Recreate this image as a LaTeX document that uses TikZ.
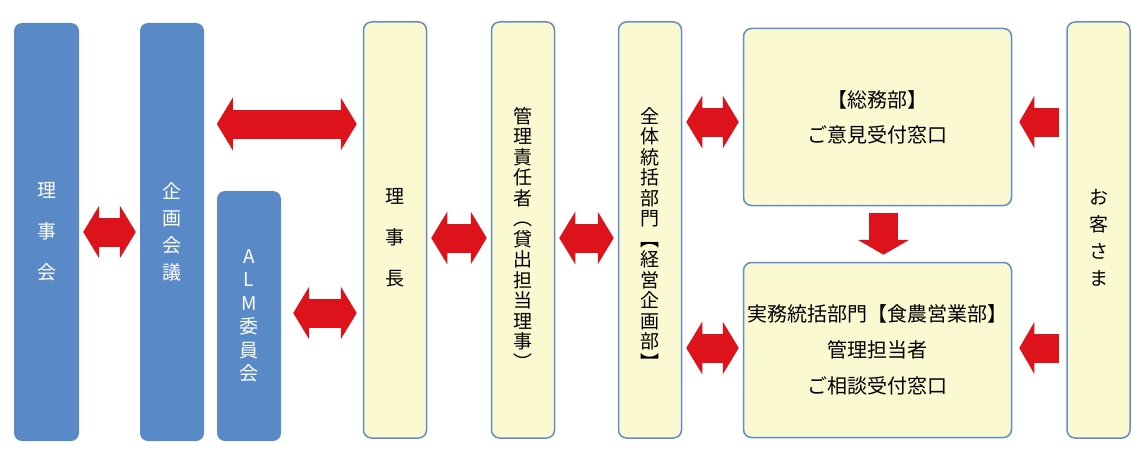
\documentclass[tikz,border=0pt]{standalone}
\usepackage{fontspec}
\setmainfont{Noto Sans CJK JP}
\usetikzlibrary{arrows.meta}

\definecolor{boardblue}{RGB}{89,137,198}
\definecolor{paleyellow}{RGB}{250,249,210}
\definecolor{edgeblue}{RGB}{98,141,200}
\definecolor{arrowred}{RGB}{222,18,26}

\tikzset{
  bluebar/.style={rectangle, rounded corners=8pt, fill=boardblue, text=white, inner sep=0pt, align=center, minimum width=64pt},
  yellowbar/.style={rectangle, rounded corners=8pt, fill=paleyellow, draw=edgeblue, line width=1.5pt, inner sep=0pt, align=center},
  columntext/.style={align=center, inner sep=0pt, yshift=-8pt},
  biarrow/.style={draw=arrowred, line width=29pt, {Triangle[length=16pt,width=52pt]}-{Triangle[length=16pt,width=52pt]}, shorten <=4pt, shorten >=4pt},
  uniarrow/.style={draw=arrowred, line width=29pt, -{Triangle[length=15pt,width=51pt]}, shorten <=7pt, shorten >=7pt},
}

\begin{document}
\begin{tikzpicture}[x=1pt, y=-1pt]
  \useasboundingbox (0,0) rectangle (1148,460);

  % left side: board and committees
  \node[bluebar, minimum width=65pt, minimum height=418pt, font=\fontsize{19pt}{41pt}\selectfont] (rijikai) at (46.5,232) {理\\事\\会};
  \node[bluebar, minimum height=418pt, font=\fontsize{19pt}{27pt}\selectfont] (kikaku) at (172,232) {企\\画\\会\\議};
  \node[bluebar, minimum height=250pt, font=\fontsize{19pt}{23.5pt}\selectfont] (alm) at (249,316) {A\\L\\M\\委\\員\\会};

  % middle columns
  \node[yellowbar, minimum width=63pt, minimum height=416pt,
    label={[columntext, font=\fontsize{19pt}{41pt}\selectfont]center:理\\事\\長}] (rijicho) at (395,230) {};
  \node[yellowbar, minimum width=63pt, minimum height=416pt,
    label={[columntext, font=\fontsize{19pt}{20.5pt}\selectfont]center:管\\理\\責\\任\\者\\︵\\貸\\出\\担\\当\\理\\事\\︶}] (kanri) at (523,230) {};
  \node[yellowbar, minimum width=63pt, minimum height=416pt,
    label={[columntext, font=\fontsize{19pt}{20.5pt}\selectfont]center:全\\体\\統\\括\\部\\門\\︻\\経\\営\\企\\画\\部\\︼}] (zentai) at (650,230) {};

  % contact windows
  \node[yellowbar, minimum width=268pt, minimum height=177pt, font=\fontsize{20pt}{35pt}\selectfont] (somu) at (877.5,117) {【総務部】\\ご意見受付窓口};
  \node[yellowbar, minimum width=268pt, minimum height=175pt, font=\fontsize{20pt}{36pt}\selectfont] (jitsumu) at (877.5,350) {実務統括部門【食農営業部】\\管理担当者\\ご相談受付窓口};

  % customer
  \node[yellowbar, minimum width=63pt, minimum height=416pt,
    label={[columntext, font=\fontsize{19pt}{27pt}\selectfont]center:お\\客\\さ\\ま}] (okyaku) at (1098.5,230) {};

  % arrow levels
  \coordinate (lvU) at (0,124);
  \coordinate (lvM) at (0,313);
  \coordinate (lvA) at (0,122);
  \coordinate (lvB) at (0,348);

  \draw[biarrow] (rijikai.east) -- (kikaku.west);
  \draw[biarrow, shorten <=0pt, shorten >=6pt] (alm.west |- lvU) -- (rijicho.west |- lvU);
  \draw[biarrow, shorten <=12pt, shorten >=6pt] (alm.east |- lvM) -- (rijicho.west |- lvM);
  \draw[biarrow] ([yshift=-8pt]rijicho.east) -- ([yshift=-8pt]kanri.west);
  \draw[biarrow] ([yshift=-8pt]kanri.east) -- ([yshift=-8pt]zentai.west);
  \draw[biarrow] (zentai.east |- lvA) -- (somu.west |- lvA);
  \draw[biarrow] (zentai.east |- lvB) -- (jitsumu.west |- lvB);
  \draw[uniarrow] (okyaku.west |- lvA) -- (somu.east |- lvA);
  \draw[uniarrow] (okyaku.west |- lvB) -- (jitsumu.east |- lvB);
  \draw[uniarrow] ([xshift=6pt]somu.south) -- ([xshift=6pt]jitsumu.north);
\end{tikzpicture}
\end{document}
